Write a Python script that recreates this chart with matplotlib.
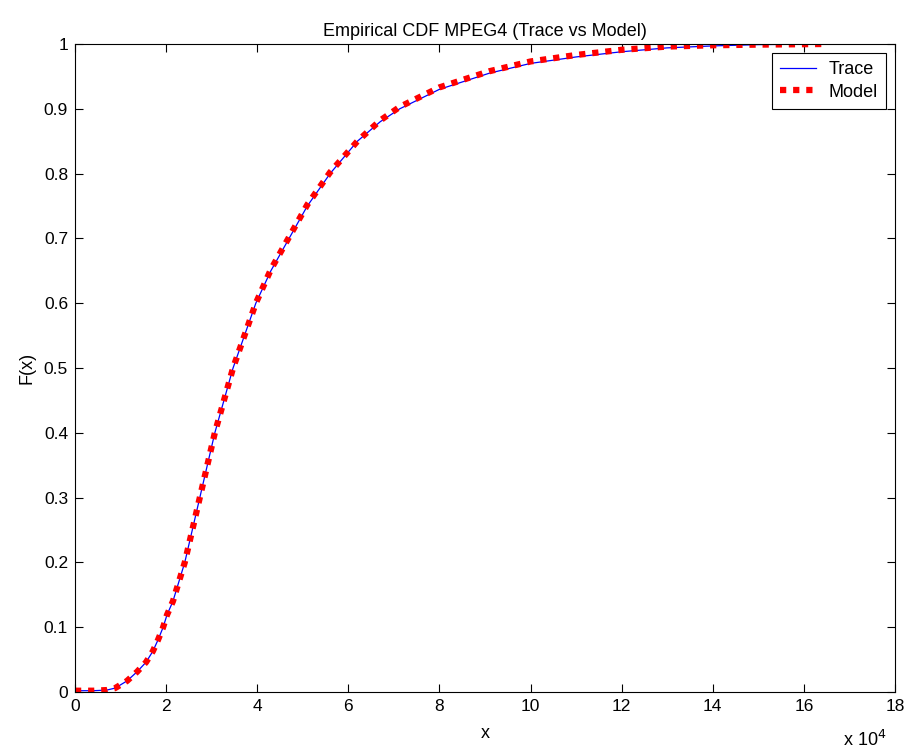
import numpy as np
import matplotlib.pyplot as plt
from matplotlib.ticker import FuncFormatter

plt.rcParams['font.family'] = ['Liberation Sans', 'DejaVu Sans']

# x values (bytes) and empirical CDF values
traceX = [0, 4000, 7000, 8800, 11400, 13600, 15600, 17100, 18200, 19300,
          20200, 21500, 24100, 27400, 30700, 34700, 39700, 43000, 47000,
          51000, 56000, 62000, 67000, 71300, 80000, 91000, 100000, 110000,
          120000, 130000, 140000, 150000, 165000]
traceF = [0.002, 0.002, 0.003, 0.006, 0.017, 0.031, 0.046, 0.063, 0.080,
          0.099, 0.119, 0.140, 0.200, 0.300, 0.400, 0.500, 0.600, 0.650,
          0.700, 0.750, 0.800, 0.850, 0.880, 0.900, 0.930, 0.955, 0.970,
          0.980, 0.988, 0.994, 0.997, 0.999, 1.000]
modelX = traceX
modelF = [0.002, 0.002, 0.003, 0.006, 0.017, 0.031, 0.046, 0.063, 0.080,
          0.099, 0.119, 0.140, 0.200, 0.300, 0.400, 0.500, 0.600, 0.652,
          0.702, 0.752, 0.802, 0.850, 0.882, 0.903, 0.933, 0.958, 0.973,
          0.983, 0.991, 0.996, 0.998, 0.999, 1.000]

fig = plt.figure(figsize=(9.1, 7.53), dpi=100)
ax = fig.add_axes([0.0824, 0.081, 0.9011, 0.8606])

ax.plot(traceX, traceF, color='blue', linewidth=0.9, label='Trace')
ax.plot(modelX, modelF, color='red', linewidth=4.5, linestyle=(0, (1, 1.1)),
        label='Model')

ax.set_xlim(0, 180000)
ax.set_ylim(0, 1)
ax.set_xticks(np.arange(0, 180001, 20000))
ax.set_yticks(np.arange(0, 1.01, 0.1))
ax.xaxis.set_major_formatter(FuncFormatter(lambda v, p: '%g' % (v / 1e4)))
ax.yaxis.set_major_formatter(FuncFormatter(lambda v, p: '%g' % round(v, 1)))
ax.tick_params(direction='in', top=True, right=True, length=6, labelsize=12.5,
               pad=5)
for s in ax.spines.values():
    s.set_linewidth(0.8)

ax.set_title('Empirical CDF MPEG4 (Trace vs Model)', fontsize=13, pad=6)
ax.set_xlabel('x', fontsize=13, labelpad=8)
ax.set_ylabel('F(x)', fontsize=13, labelpad=6)
ax.text(0.99, -0.058, r'x 10$^4$', transform=ax.transAxes, ha='right',
        va='top', fontsize=13)

leg = ax.legend(loc='upper right', fontsize=13, fancybox=False,
                edgecolor='black', framealpha=1, borderaxespad=0.5,
                handlelength=2.0, borderpad=0.45, labelspacing=0.3,
                handletextpad=0.7)
leg.get_frame().set_linewidth(0.8)

plt.savefig('out.png', dpi=100)
